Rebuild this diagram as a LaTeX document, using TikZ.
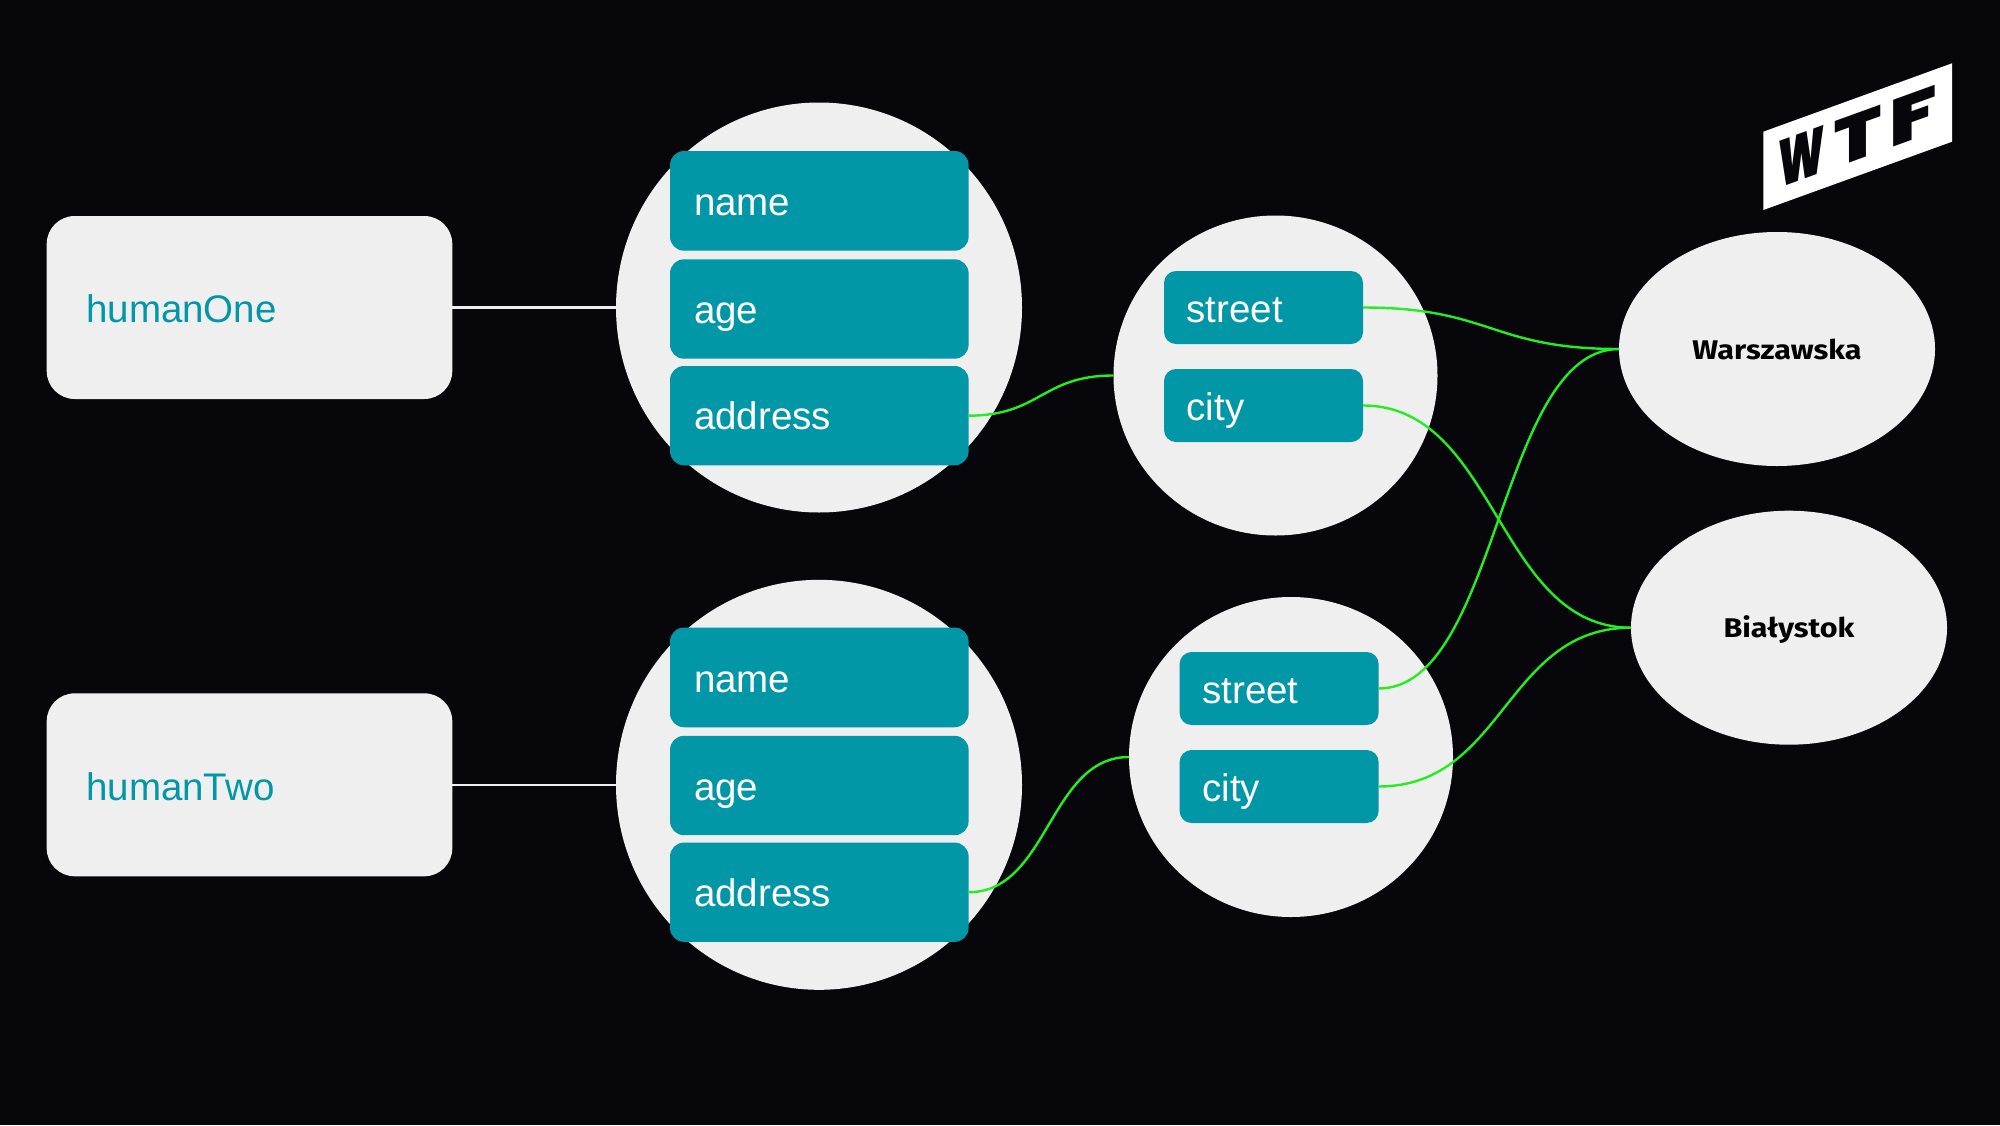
\documentclass[tikz,border=0pt]{standalone}
\usepackage{fontspec}
\usepackage{graphicx}
\setmainfont{Liberation Sans}
\newfontfamily\cityfont[FakeStretch=1.13]{Fira Sans}
\newfontfamily\logofont{Poppins Black}
\usetikzlibrary{shapes.geometric}
\definecolor{bgc}{HTML}{07060B}
\definecolor{paper}{HTML}{EFEFEF}
\definecolor{tealc}{HTML}{0297A7}
\definecolor{greenc}{HTML}{22EE22}
\newcommand{\labelsize}{\fontsize{38.5}{40}\selectfont}
\newcommand{\LogoGlyph}[2]{\resizebox{#1pt}{46.7pt}{#2}}
\tikzset{
  every node/.style={inner sep=0pt,outer sep=0pt},
  holder/.style={rectangle,rounded corners=28pt,fill=paper,text=tealc,inner xsep=39.5pt,text width=326.6pt,align=left,font=\labelsize,text height=106.7pt,text depth=76.3pt},
  disc/.style={ellipse,fill=paper},
  bigdisc/.style={disc,minimum width=406pt,minimum height=410pt},
  smalldisc/.style={disc,minimum width=324pt,minimum height=320pt},
  citydisc/.style={disc,minimum width=316pt,minimum height=234pt,text=black,font=\cityfont\bfseries\fontsize{27}{30}\selectfont,text height=20.5pt,text depth=-1pt},
  bigfield/.style={rectangle,rounded corners=14pt,fill=tealc,text=white,inner xsep=24pt,text width=250.6pt,align=left,font=\labelsize},
  smallfield/.style={rectangle,rounded corners=12pt,fill=tealc,text=white,inner xsep=22.7pt,text width=153.6pt,align=left,font=\labelsize},
  link/.style={paper,line width=2.2pt},
  glink/.style={greenc,line width=2.4pt}
}
\begin{document}
\begin{tikzpicture}[x=1pt,y=-1pt]
\useasboundingbox (0,0) rectangle (2000,1125);
\fill[bgc] (0,0) rectangle (2000,1125);
% logo
\fill[white] (1763.3,131.7) -- (1952,63.3) -- (1952,141.7) -- (1763.3,210) -- cycle;
\node[anchor=south west,text=bgc,yslant=0.362,font=\logofont] (logo) at (1778.3,188.3)
  {\hbox{\LogoGlyph{46.7}{W}\kern9.3pt\LogoGlyph{47}{T}\kern7.7pt\LogoGlyph{47.7}{F}}};
% left
\node[holder] (h1) at (249.5,307.5) {humanOne};
\node[holder] (h2) at (249.5,784.8) {humanTwo};
% discs
\node[bigdisc] (d1) at (819,307.5) {};
\node[bigdisc] (d2) at (819,784.8) {};
\node[smalldisc] (s1) at (1275.5,375.5) {};
\node[smalldisc] (s2) at (1291,757) {};
\node[citydisc] (w) at (1777,349) {Warszawska};
\node[citydisc] (b) at (1789,627.7) {Białystok};
% fields
\node[bigfield,text height=64pt,text depth=35.7pt] (n1) at (819.3,200.85) {name};
\node[bigfield,text height=63.7pt,text depth=35.7pt] (a1) at (819.3,309) {age};
\node[bigfield,text height=63.5pt,text depth=35.8pt] (r1) at (819.3,415.65) {address};
\node[bigfield,text height=65pt,text depth=34.7pt] (n2) at (819.3,677.4) {name};
\node[bigfield,text height=64.7pt,text depth=34.7pt] (a2) at (819.3,785.5) {age};
\node[bigfield,text height=64pt,text depth=35.3pt] (r2) at (819.3,892.2) {address};
\node[smallfield,text height=51.6pt,text depth=21.4pt] (st1) at (1263.5,307.5) {street};
\node[smallfield,text height=51.7pt,text depth=21.3pt] (ci1) at (1263.5,405.5) {city};
\node[smallfield,text height=51.6pt,text depth=21.4pt] (st2) at (1279.1,688.5) {street};
\node[smallfield,text height=51.5pt,text depth=21.5pt] (ci2) at (1279.1,786.5) {city};
% links
\draw[link] (h1.east) -- (d1.west);
\draw[link] (h2.east) -- (d2.west);
\draw[glink] (r1.east) .. controls +(72,0) and +(-72,0) .. (s1.west);
\draw[glink] (r2.east) .. controls +(80,0) and +(-80,0) .. (s2.west);
\draw[glink] (st1.east) .. controls +(128,0) and +(-128,0) .. (w.west);
\draw[glink] (ci1.east) .. controls +(134,0) and +(-134,0) .. (b.west);
\draw[glink] (st2.east) .. controls +(120,0) and +(-120,0) .. (w.west);
\draw[glink] (ci2.east) .. controls +(126,0) and +(-126,0) .. (b.west);
\end{tikzpicture}
\end{document}
